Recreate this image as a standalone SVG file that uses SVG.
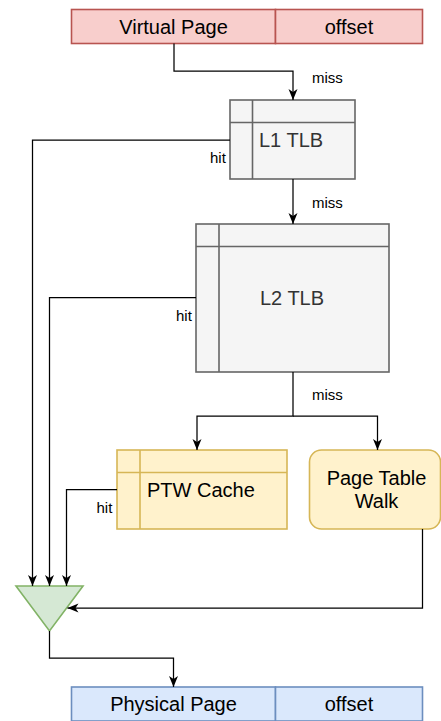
<svg xmlns="http://www.w3.org/2000/svg" width="441" height="721" viewBox="0 0 441 721">
<style>
text{font-family:"Liberation Sans",Arial,sans-serif;}
.big{font-size:20px;fill:#000;}
.gray{font-size:20px;fill:#333333;}
.lbl{font-size:15px;fill:#000;}
.pink{fill:#f8cecc;stroke:#b85450;stroke-width:1.6;}
.grey{fill:#f5f5f5;stroke:#666666;stroke-width:1.6;}
.yel{fill:#fff2cc;stroke:#d6b656;stroke-width:1.6;}
.grn{fill:#d5e8d4;stroke:#82b366;stroke-width:1.6;}
.blue{fill:#dae8fc;stroke:#6c8ebf;stroke-width:1.6;}
.ln{fill:none;stroke:#666666;stroke-width:1.6;}
.lny{fill:none;stroke:#d6b656;stroke-width:1.6;}
.e{fill:none;stroke:#000;stroke-width:1.25;}
</style>
<defs>
<marker id="arr" markerUnits="userSpaceOnUse" markerWidth="12" markerHeight="12" viewBox="0 0 12 12" refX="11" refY="6" orient="auto">
<path d="M0,1.5 L11,6 L0,10.5 L3,6 z" fill="#000"/>
</marker>
</defs>
<g id="virtual-address">
<rect class="pink" x="71.5" y="9.5" width="204" height="34"/>
<rect class="pink" x="275.5" y="9.5" width="147" height="34"/>
<text class="big" x="173.5" y="33.5" text-anchor="middle">Virtual Page</text>
<text class="big" x="349" y="33.5" text-anchor="middle">offset</text>
</g>
<g id="l1-tlb">
<rect class="grey" x="230" y="100" width="125" height="79"/>
<path class="ln" d="M230,122.5 H355 M252.5,100 V179"/>
<text class="gray" x="259" y="146.5">L1 TLB</text>
</g>
<g id="l2-tlb">
<rect class="grey" x="196" y="224" width="193" height="148"/>
<path class="ln" d="M196,246.5 H389 M219,224 V372"/>
<text class="gray" x="292" y="305" text-anchor="middle">L2 TLB</text>
</g>
<g id="ptw-cache">
<rect class="yel" x="117" y="450" width="170" height="79"/>
<path class="lny" d="M117,472.5 H287 M140,450 V529"/>
<text class="big" x="147" y="497">PTW Cache</text>
</g>
<g id="page-table-walk">
<rect class="yel" x="309.5" y="450" width="131" height="79" rx="12" ry="12"/>
<text class="big" x="376.5" y="485" text-anchor="middle">Page Table</text>
<text class="big" x="376.5" y="508" text-anchor="middle">Walk</text>
</g>
<g id="mux">
<path class="grn" d="M16,586 L83,586 L49.5,631 z"/>
</g>
<g id="physical-address">
<rect class="blue" x="71.5" y="687" width="204" height="34"/>
<rect class="blue" x="275.5" y="687" width="147" height="34"/>
<text class="big" x="173.5" y="711" text-anchor="middle">Physical Page</text>
<text class="big" x="349" y="711" text-anchor="middle">offset</text>
</g>
<g id="connectors">
<path class="e" d="M174,43.5 V71 H293 V100" marker-end="url(#arr)"/>
<path class="e" d="M293,179 V224" marker-end="url(#arr)"/>
<path class="e" d="M293,372 V416 H197 V450" marker-end="url(#arr)"/>
<path class="e" d="M293,416 H377.5 V450" marker-end="url(#arr)"/>
<path class="e" d="M230,140 H32.5 V586" marker-end="url(#arr)"/>
<path class="e" d="M196,297.5 H49.5 V586" marker-end="url(#arr)"/>
<path class="e" d="M117,489.5 H66.5 V586" marker-end="url(#arr)"/>
<path class="e" d="M422.5,529 V608 H67.5" marker-end="url(#arr)"/>
<path class="e" d="M49.5,631 V658 H173.5 V687" marker-end="url(#arr)"/>
<text class="lbl" x="312" y="83">miss</text>
<text class="lbl" x="312" y="208">miss</text>
<text class="lbl" x="312" y="400">miss</text>
<text class="lbl" x="210" y="162.5">hit</text>
<text class="lbl" x="176" y="320.5">hit</text>
<text class="lbl" x="96.5" y="513">hit</text>
</g>
</svg>
